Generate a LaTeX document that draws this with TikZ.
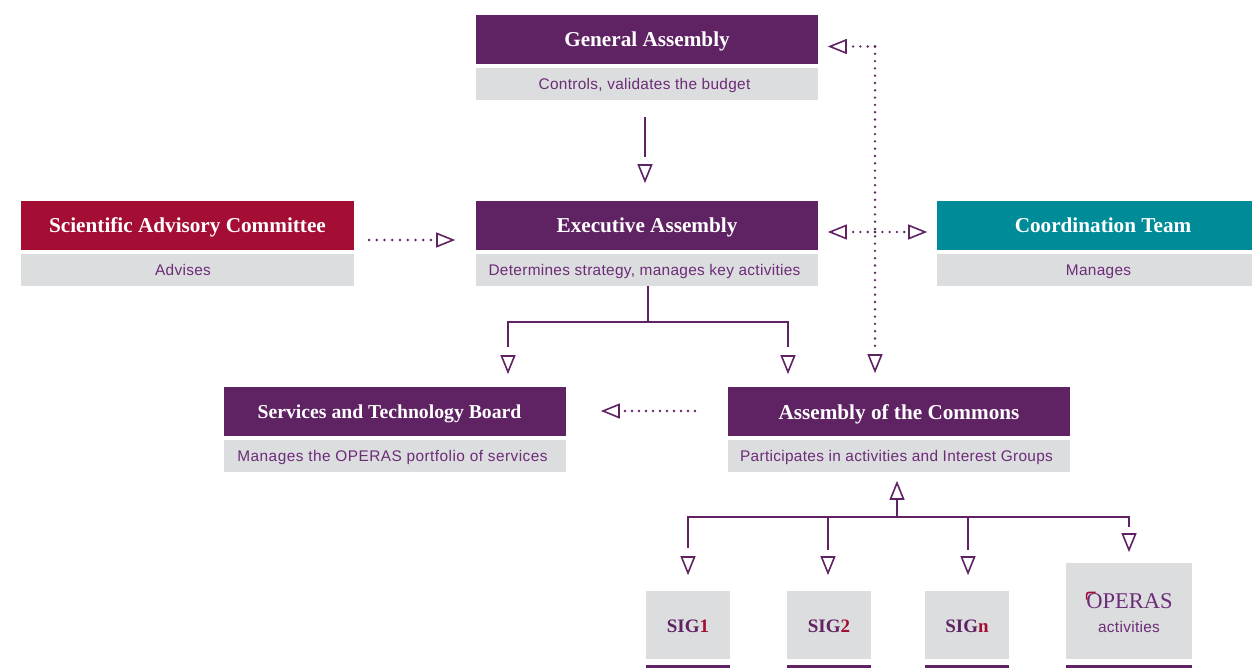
\documentclass[tikz,border=0pt]{standalone}
\usepackage{fontspec}
\usepackage{tikz}
\setmainfont{Liberation Serif}
\newfontfamily\descfont[LetterSpace=2]{Liberation Sans}

\definecolor{opurple}{HTML}{5F2263}
\definecolor{otext}{HTML}{6C2C78}
\definecolor{ored}{HTML}{A50E34}
\definecolor{oteal}{HTML}{008B99}
\definecolor{ogray}{HTML}{DCDDDE}

\tikzset{
	titlebox/.style={fill=#1, text=white, minimum height=49pt, inner sep=0pt,
		text height=14.5pt, text depth=0pt,
		font=\fontsize{21.2}{24}\selectfont\bfseries},
	descbox/.style={fill=ogray, text=otext, minimum height=32pt, inner sep=0pt,
		text height=11pt, text depth=0pt,
		font=\descfont\fontsize{15.4}{18}\selectfont, execute at begin node={\hskip-5pt}},
	sigbox/.style={fill=ogray, text=opurple, inner sep=0pt, minimum width=84pt, minimum height=68pt,
		text height=14pt, text depth=0pt,
		font=\fontsize{19}{23}\selectfont\bfseries},
	solidline/.style={opurple, line width=2pt},
	dotline/.style={opurple, line width=2.6pt, line cap=round, dash pattern=on 0pt off 7.3pt},
	hollowhead/.pic={
		\draw[opurple, line width=1.6pt, line join=miter] (-2, 0) -- (-18, -6.5) -- (-18, 6.5) -- cycle;
	}
}

\begin{document}
\begin{tikzpicture}[x=1pt, y=-1pt]
		\useasboundingbox (0, 0) rectangle (1252, 668);

		% boxes
		\node[titlebox=opurple, minimum width=342pt] (general) at (647, 39.5) {General Assembly};
		\node[descbox, minimum width=342pt] (generaldesc) at (647, 84) {Controls, validates the budget};

		\node[titlebox=opurple, minimum width=342pt] (exec) at (647, 225.5) {Executive Assembly};
		\node[descbox, minimum width=342pt] (execdesc) at (647, 270) {Determines strategy, manages key activities};

		\node[titlebox=ored, minimum width=333pt] (advisory) at (187.5, 225.5) {Scientific Advisory Committee};
		\node[descbox, minimum width=333pt, execute at begin node={\hskip-4pt}] (advisorydesc) at (187.5, 270) {Advises};

		\node[titlebox=oteal, minimum width=315pt, execute at begin node={\hskip17pt}] (coord) at (1094.5, 225.5) {Coordination Team};
		\node[descbox, minimum width=315pt, execute at begin node={\hskip13pt}] (coorddesc) at (1094.5, 270) {Manages};

		\node[titlebox=opurple, minimum width=342pt, font=\fontsize{19.7}{24}\selectfont\bfseries,
			text height=13.5pt, execute at begin node={\hskip-11pt}] (services) at (395, 411.5) {Services and Technology Board};
		\node[descbox, minimum width=342pt, font=\descfont\addfontfeature{LetterSpace=3}\fontsize{15.4}{18}\selectfont]
			(servicesdesc) at (395, 456) {Manages the OPERAS portfolio of services};

		\node[titlebox=opurple, minimum width=342pt, text height=15.5pt] (commons) at (899, 411.5) {Assembly of the Commons};
		\node[descbox, minimum width=342pt] (commonsdesc) at (899, 456) {Participates in activities and Interest Groups};

		\foreach \x/\name/\num in {688/1/1, 829/2/2, 967/n/n}
			{
				\node[sigbox] (sig\name) at (\x, 625) {SIG\textcolor{ored}{\num}};
				\fill[opurple] (\x - 42, 665) rectangle (\x + 42, 668);
			}

		\node[fill=ogray, minimum width=126pt, minimum height=96pt, inner sep=0pt] (opbox) at (1129, 611) {};
		\fill[opurple] (1066, 665) rectangle (1192, 668);
		\node[inner sep=0pt, text=otext, font=\fontsize{22.5}{28}\selectfont] (oplogo) at (1129.5, 601.5) {OPERAS};
		\node[inner sep=0pt, text=otext, font=\descfont\fontsize{15.4}{18}\selectfont] (opact) at (1129, 627) {activities};
		\draw[ored, line width=1.6pt, rounded corners=2pt] (oplogo.west) ++(.5, -2) -- ++(0, -7) -- ++(9, 0);

		% free ends of the connectors
		\coordinate (genstart) at (645, 117);
		\coordinate (genend) at (645, 183);
		\coordinate (execfork) at (648, 322);
		\coordinate (forkleft) at (508, 322);
		\coordinate (forkright) at (788, 322);
		\coordinate (tipleft) at (508, 374);
		\coordinate (tipright) at (788, 374);
		\coordinate (dotcorner) at (875, 46.5);
		\coordinate (dottop) at (828, 46.5);
		\coordinate (dotcross) at (875, 232);
		\coordinate (dotbottom) at (875, 373);
		\coordinate (execleft) at (828, 232);
		\coordinate (coordright) at (927, 232);
		\coordinate (advstart) at (369, 240);
		\coordinate (advend) at (455, 240);
		\coordinate (comstart) at (695, 411);
		\coordinate (comend) at (601, 411);
		\coordinate (sigfork) at (897, 516.5);
		\coordinate (sigup) at (897, 481);
		\coordinate (forka) at (688, 516.5);
		\coordinate (forkb) at (828, 516.5);
		\coordinate (forkc) at (968, 516.5);
		\coordinate (forkd) at (1129, 516.5);
		\coordinate (tipa) at (688, 575);
		\coordinate (tipb) at (828, 575);
		\coordinate (tipc) at (968, 575);
		\coordinate (tipd) at (1129, 552);

		% solid connectors
		\draw[solidline, shorten >=26pt] (genstart) -- (genend);
		\draw[solidline] (execdesc.south -| execfork) -- (execfork);
		\draw[solidline, shorten >=27pt] (execfork) -- (forkleft) -- (tipleft);
		\draw[solidline, shorten >=27pt] (execfork) -- (forkright) -- (tipright);
		\draw[solidline, shorten >=18pt] (sigfork) -- (sigup);
		\draw[solidline, shorten >=27pt] (sigfork) -- (forka) -- (tipa);
		\draw[solidline, shorten >=25pt] (forkb) -- (tipb);
		\draw[solidline, shorten >=25pt] (forkc) -- (tipc);
		\draw[solidline, shorten >=25pt] (sigfork) -- (forkd) -- (tipd);

		% dotted connectors
		\draw[dotline, shorten >=24pt] (dotcorner) -- (dottop);
		\draw[dotline, shorten >=26pt] (dotcorner) -- (dotbottom);
		\draw[dotline, shorten >=24pt] (dotcross) -- (execleft);
		\draw[dotline, shorten >=21pt] (dotcross) -- (coordright);
		\draw[dotline, dash pattern=on 0pt off 7.75pt, shorten >=23pt] (advstart) -- (advend);
		\draw[dotline, dash pattern=on 0pt off 7pt, shorten >=23pt] (comstart) -- (comend);

		% arrow heads
		\foreach \tip/\angle in {genend/-90, tipleft/-90, tipright/-90, dotbottom/-90, tipa/-90, tipb/-90, tipc/-90, tipd/-90, sigup/90, dottop/180, execleft/180, comend/180, coordright/0, advend/0}
			\pic[rotate=\angle] at (\tip) {hollowhead};

	\end{tikzpicture}
\end{document}
